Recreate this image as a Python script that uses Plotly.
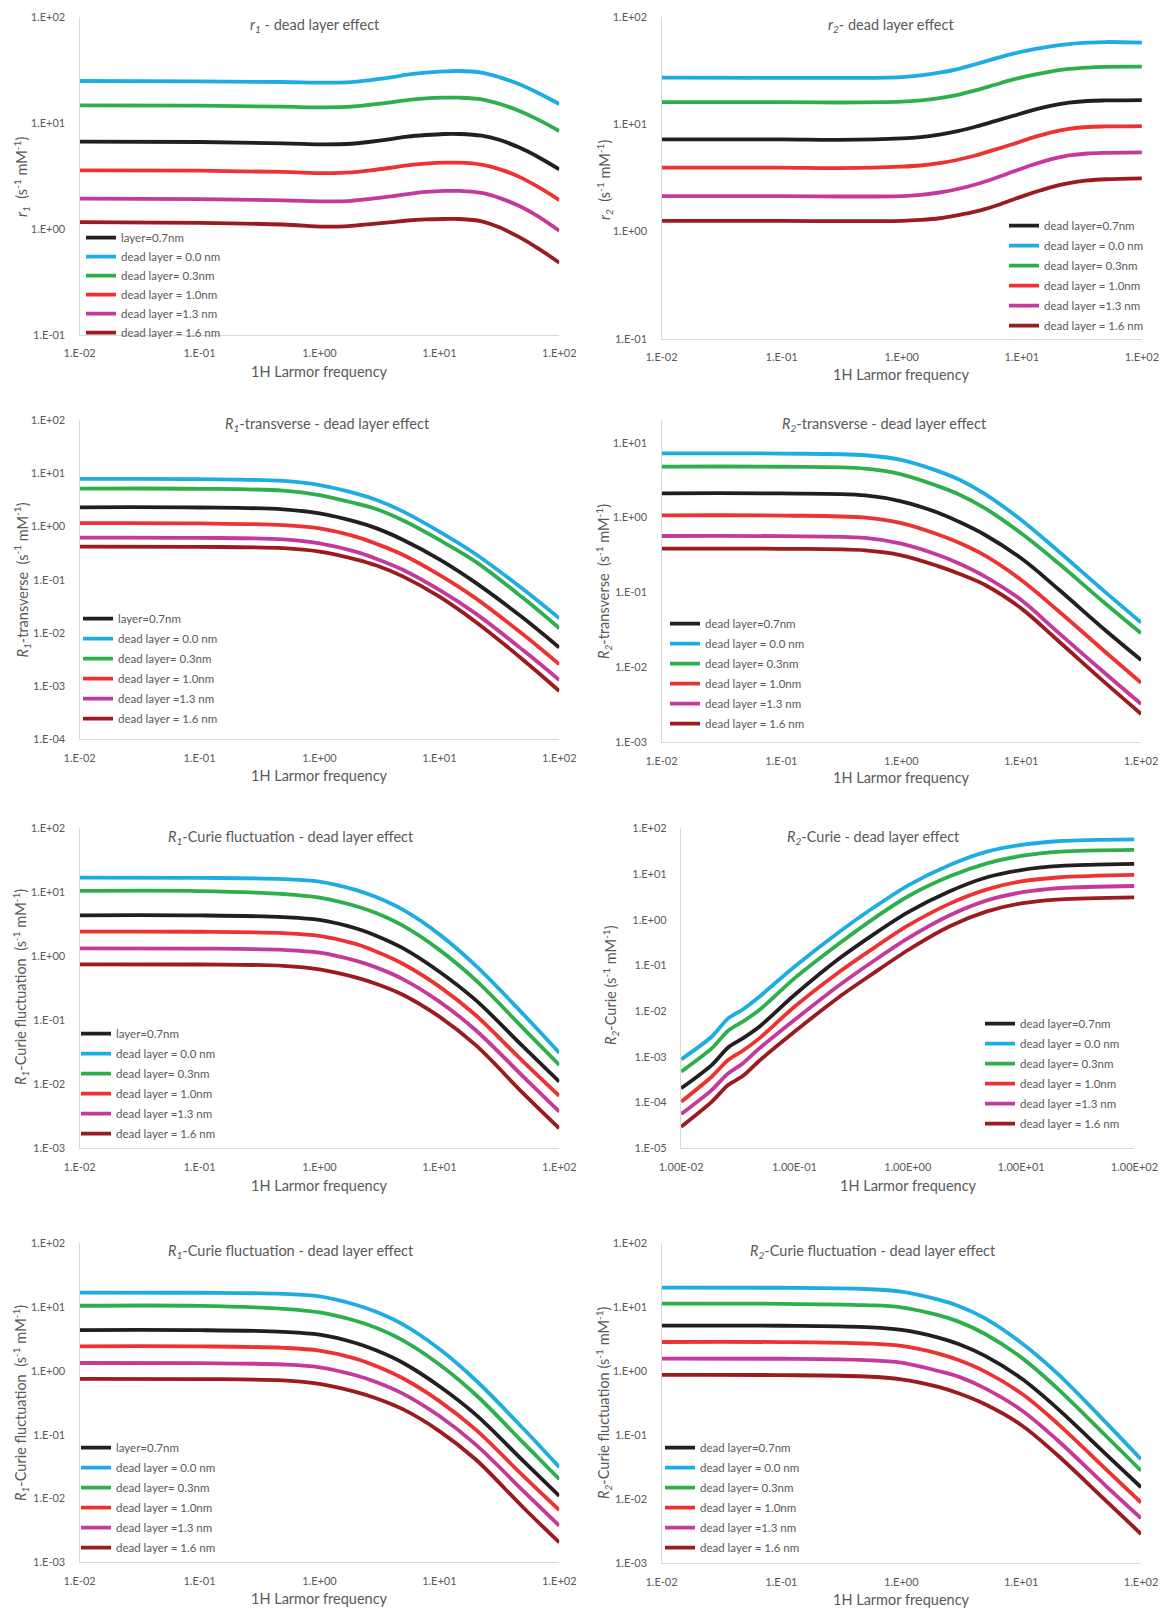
import plotly.graph_objects as go

W, H = 1161, 1608
FONT = "Lato, Open Sans, sans-serif"
GREY = "#595959"

# ---------------- data ----------------
SERIES_LEFT = ["layer=0.7nm", "dead layer = 0.0 nm", "dead layer= 0.3nm",
               "dead layer = 1.0nm", "dead layer =1.3 nm", "dead layer = 1.6 nm"]
SERIES_RIGHT = ["dead layer=0.7nm", "dead layer = 0.0 nm", "dead layer= 0.3nm",
                "dead layer = 1.0nm", "dead layer =1.3 nm", "dead layer = 1.6 nm"]
COLORS = ["#231F20", "#1DADE3", "#2DB04B", "#EE3231", "#C4399B", "#9B1B1F"]

# r1
freq_r1 = [0.01, 0.1, 0.5, 1.1, 1.85, 2.66, 3.8, 5.4, 7.7, 11, 14.7, 22.5, 32, 46, 66, 100]
r1_07 = [6.64, 6.59, 6.40, 6.26, 6.35, 6.63, 6.98, 7.40, 7.67, 7.84, 7.84, 7.56, 6.88, 5.87, 4.79, 3.64]
r1_00 = [24.76, 24.58, 24.23, 23.88, 24.2, 25.3, 26.61, 28.40, 29.66, 30.54, 30.76, 29.66, 26.80, 23.20, 19.22, 15.03]
r1_03 = [14.60, 14.50, 14.18, 13.98, 14.18, 14.8, 15.47, 16.39, 16.99, 17.24, 17.24, 16.63, 15.03, 13.00, 10.78, 8.36]
r1_10 = [3.56, 3.54, 3.44, 3.36, 3.41, 3.56, 3.75, 3.97, 4.12, 4.21, 4.21, 4.03, 3.64, 3.11, 2.50, 1.87]
r1_13 = [1.93, 1.91, 1.86, 1.82, 1.84, 1.92, 2.01, 2.13, 2.23, 2.28, 2.28, 2.18, 1.95, 1.65, 1.32, 0.96]
r1_16 = [1.16, 1.14, 1.10, 1.05, 1.07, 1.11, 1.15, 1.20, 1.23, 1.24, 1.24, 1.18, 1.03, 0.84, 0.66, 0.48]

# r2
freq_r2 = [0.01, 0.1, 0.3, 1, 1.44, 2.06, 2.93, 4.18, 5.97, 8.5, 12.1, 17.3, 24.7, 35.2, 50.2, 100]
r2_07 = [7.21, 7.21, 7.15, 7.37, 7.58, 8.00, 8.61, 9.51, 10.66, 11.96, 13.42, 14.82, 15.82, 16.42, 16.62, 16.76]
r2_00 = [27.05, 27.0, 26.9, 27.44, 28.44, 30.11, 32.58, 36.26, 40.66, 45.24, 49.29, 52.97, 55.67, 57.28, 58.11, 57.3]
r2_03 = [16.0, 16.0, 15.9, 16.17, 16.61, 17.43, 18.73, 20.72, 23.27, 26.05, 28.60, 30.83, 32.62, 33.61, 34.12, 34.25]
r2_10 = [3.93, 3.93, 3.9, 4.02, 4.12, 4.33, 4.66, 5.13, 5.79, 6.54, 7.46, 8.35, 9.03, 9.40, 9.52, 9.60]
r2_13 = [2.14, 2.14, 2.12, 2.14, 2.20, 2.31, 2.49, 2.76, 3.14, 3.62, 4.16, 4.70, 5.11, 5.33, 5.41, 5.46]
r2_16 = [1.26, 1.26, 1.25, 1.26, 1.285, 1.33, 1.42, 1.54, 1.73, 1.99, 2.28, 2.58, 2.83, 2.99, 3.07, 3.13]

# R1-transverse
freq_R1t = [0.01, 0.1, 0.5, 1, 2, 3, 5, 10, 20, 50, 100]
R1t_07 = [2.29, 2.27, 2.1, 1.76, 1.23, 0.92, 0.557, 0.241, 0.088, 0.019, 0.00529]
R1t_00 = [7.8, 7.75, 7.15, 6.0, 4.19, 3.14, 1.90, 0.80, 0.304, 0.0659, 0.0188]
R1t_03 = [5.13, 5.1, 4.7, 3.89, 2.71, 2.10, 1.29, 0.557, 0.218, 0.045, 0.0122]
R1t_10 = [1.15, 1.14, 1.06, 0.92, 0.644, 0.469, 0.291, 0.123, 0.045, 0.0093, 0.00257]
R1t_13 = [0.616, 0.61, 0.57, 0.482, 0.336, 0.245, 0.152, 0.0641, 0.0232, 0.0047, 0.0013]
R1t_16 = [0.417, 0.413, 0.39, 0.336, 0.241, 0.184, 0.114, 0.048, 0.0162, 0.0031, 0.00081]

# R2-transverse
freq_R2t = [0.01, 0.1, 0.5, 1, 2, 3, 5, 10, 20, 50, 100]
R2t_07 = [2.11, 2.1, 1.98, 1.65, 1.17, 0.885, 0.586, 0.286, 0.114, 0.0316, 0.01256]
R2t_00 = [7.2, 7.15, 6.8, 5.9, 4.21, 3.25, 2.06, 0.93, 0.367, 0.102, 0.0398]
R2t_03 = [4.79, 4.77, 4.5, 3.78, 2.65, 2.05, 1.33, 0.617, 0.253, 0.0717, 0.0285]
R2t_10 = [1.07, 1.065, 1.0, 0.845, 0.60, 0.464, 0.31, 0.147, 0.0584, 0.0162, 0.00625]
R2t_13 = [0.568, 0.565, 0.535, 0.448, 0.319, 0.246, 0.163, 0.0794, 0.030, 0.00834, 0.00325]
R2t_16 = [0.385, 0.383, 0.365, 0.314, 0.227, 0.179, 0.126, 0.0614, 0.0232, 0.00625, 0.00239]

# R1-Curie fluctuation
freq_R1c = [0.01, 0.1, 0.5, 1, 2, 3, 5, 10, 20, 50, 100]
R1c_07 = [4.37, 4.35, 4.1, 3.7, 2.74, 2.08, 1.33, 0.575, 0.208, 0.0388, 0.011]
R1c_00 = [16.9, 16.8, 16.1, 14.7, 10.9, 8.35, 5.3, 2.2, 0.72, 0.125, 0.031]
R1c_03 = [10.5, 10.45, 9.4, 8.26, 6.11, 4.7, 2.98, 1.26, 0.427, 0.075, 0.02]
R1c_10 = [2.43, 2.42, 2.3, 2.08, 1.56, 1.18, 0.759, 0.336, 0.121, 0.0226, 0.00657]
R1c_13 = [1.33, 1.32, 1.26, 1.14, 0.855, 0.665, 0.437, 0.196, 0.0706, 0.0132, 0.00374]
R1c_16 = [0.75, 0.745, 0.71, 0.627, 0.47, 0.37, 0.249, 0.114, 0.0412, 0.00723, 0.00205]

# R2-Curie
freq_R2c = [0.01, 0.0186, 0.026, 0.035, 0.049, 0.1, 0.25, 0.5, 1, 2.35, 5, 10, 22.4, 100]
R2c_07 = [2.05e-4, 6.62e-4, 1.61e-3, 2.54e-3, 4.57e-3, 0.0225, 0.143, 0.48, 1.45, 4.2, 8.5, 12.2, 15.0, 16.6]
R2c_00 = [8.8e-4, 2.76e-3, 6.95e-3, 0.0109, 0.0207, 0.094, 0.548, 1.85, 5.6, 15.8, 30.9, 43.2, 52.8, 57.4]
R2c_03 = [4.73e-4, 1.53e-3, 3.74e-3, 5.89e-3, 0.0106, 0.0522, 0.305, 1.06, 3.22, 8.9, 17.1, 24.8, 30.9, 33.6]
R2c_10 = [1.04e-4, 3.68e-4, 8.5e-4, 1.36e-3, 2.54e-3, 0.0125, 0.0731, 0.24, 0.74, 2.25, 4.6, 6.9, 8.5, 9.53]
R2c_13 = [5.6e-5, 1.88e-4, 4.35e-4, 7.2e-4, 1.53e-3, 6.4e-3, 0.0373, 0.125, 0.39, 1.25, 2.65, 3.95, 4.95, 5.47]
R2c_16 = [2.96e-5, 1.04e-4, 2.42e-4, 3.8e-4, 8.24e-4, 3.55e-3, 0.0207, 0.068, 0.215, 0.72, 1.52, 2.28, 2.8, 3.09]

# R2-Curie fluctuation
freq_R2cf = [0.01, 0.1, 0.5, 1, 2, 3, 5, 10, 20, 50, 100]
R2cf_07 = [5.17, 5.15, 4.9, 4.43, 3.4, 2.67, 1.74, 0.778, 0.264, 0.0524, 0.0154]
R2cf_00 = [20.3, 20.2, 19.3, 17.6, 13.3, 10.5, 6.73, 2.8, 0.93, 0.164, 0.0422]
R2cf_03 = [11.4, 11.35, 10.8, 10.0, 7.59, 5.97, 3.83, 1.65, 0.542, 0.101, 0.028]
R2cf_10 = [2.87, 2.86, 2.72, 2.49, 1.91, 1.5, 0.99, 0.453, 0.154, 0.0305, 0.00887]
R2cf_13 = [1.58, 1.57, 1.5, 1.37, 1.02, 0.826, 0.542, 0.249, 0.0845, 0.0167, 0.00505]
R2cf_16 = [0.877, 0.872, 0.83, 0.75, 0.575, 0.453, 0.305, 0.145, 0.0493, 0.0098, 0.00287]

X_TICKS = [0.01, 0.1, 1, 10, 100]
X_LABELS = ["1.E-02", "1.E-01", "1.E+00", "1.E+01", "1.E+02"]
X_LABELS_LONG = ["1.00E-02", "1.00E-01", "1.00E+00", "1.00E+01", "1.00E+02"]
Y_TICKS = [1e-5, 1e-4, 1e-3, 1e-2, 1e-1, 1, 10, 100]
Y_LABELS = ["1.E-05", "1.E-04", "1.E-03", "1.E-02", "1.E-01", "1.E+00", "1.E+01", "1.E+02"]

UNIT = "(s<sup>-1</sup> mM<sup>-1</sup>)"

panels = [
    dict(x=freq_r1, ys=[r1_07, r1_00, r1_03, r1_10, r1_13, r1_16], names=SERIES_LEFT,
         xd=(79.6, 559.3), yd=(16.7, 335), yr=(-1, 2), xl=X_LABELS,
         title="<i>r<sub>1</sub></i> - dead layer effect", tpos=(315, 25),
         ytitle="<i>r<sub>1</sub></i>  " + UNIT, ytpos=(22, 177), xtpos=(319, 371),
         leg=(94, 238)),
    dict(x=freq_r2, ys=[r2_07, r2_00, r2_03, r2_10, r2_13, r2_16], names=SERIES_RIGHT,
         xd=(661.5, 1141.9), yd=(16.7, 339), yr=(-1, 2), xl=X_LABELS,
         title="<i>r<sub>2</sub></i>- dead layer effect", tpos=(891, 26),
         ytitle="<i>r<sub>2</sub></i>  " + UNIT, ytpos=(605, 180), xtpos=(901, 374),
         leg=(1017, 226)),
    dict(x=freq_R1t, ys=[R1t_07, R1t_00, R1t_03, R1t_10, R1t_13, R1t_16], names=SERIES_LEFT,
         xd=(79.6, 559.3), yd=(420, 739.3), yr=(-4, 2), xl=X_LABELS,
         title="<i>R<sub>1</sub></i>-transverse - dead layer effect", tpos=(327, 424),
         ytitle="<i>R<sub>1</sub></i>-transverse  " + UNIT, ytpos=(21.5, 580), xtpos=(319, 775),
         leg=(91, 619)),
    dict(x=freq_R2t, ys=[R2t_07, R2t_00, R2t_03, R2t_10, R2t_13, R2t_16], names=SERIES_RIGHT,
         xd=(661.5, 1141.1), yd=(420, 742.3), yr=(-3, 1.303), xl=X_LABELS,
         title="<i>R<sub>2</sub></i>-transverse - dead layer effect", tpos=(884, 424),
         ytitle="<i>R<sub>2</sub></i>-transverse  " + UNIT, ytpos=(603, 582), xtpos=(901, 778),
         leg=(678, 624)),
    dict(x=freq_R1c, ys=[R1c_07, R1c_00, R1c_03, R1c_10, R1c_13, R1c_16], names=SERIES_LEFT,
         xd=(79.6, 559.3), yd=(828.3, 1148.3), yr=(-3, 2), xl=X_LABELS,
         title="<i>R<sub>1</sub></i>-Curie fluctuation - dead layer effect", tpos=(291, 837),
         ytitle="<i>R<sub>1</sub></i>-Curie fluctuation  " + UNIT, ytpos=(20, 987), xtpos=(319, 1185),
         leg=(89, 1034)),
    dict(x=freq_R2c, ys=[R2c_07, R2c_00, R2c_03, R2c_10, R2c_13, R2c_16], names=SERIES_RIGHT,
         xd=(681.1, 1134.4), yd=(828.3, 1148.3), yr=(-5, 2), xl=X_LABELS_LONG,
         title="<i>R<sub>2</sub></i>-Curie - dead layer effect", tpos=(873, 837),
         ytitle="<i>R<sub>2</sub></i>-Curie " + UNIT, ytpos=(610, 985), xtpos=(908, 1185),
         leg=(993, 1024)),
    dict(x=freq_R1c, ys=[R1c_07, R1c_00, R1c_03, R1c_10, R1c_13, R1c_16], names=SERIES_LEFT,
         xd=(79.6, 559.3), yd=(1243.3, 1562.3), yr=(-3, 2), xl=X_LABELS,
         title="<i>R<sub>1</sub></i>-Curie fluctuation - dead layer effect", tpos=(291, 1251),
         ytitle="<i>R<sub>1</sub></i>-Curie fluctuation  " + UNIT, ytpos=(20, 1403), xtpos=(319, 1598),
         leg=(89, 1448)),
    dict(x=freq_R2cf, ys=[R2cf_07, R2cf_00, R2cf_03, R2cf_10, R2cf_13, R2cf_16], names=SERIES_RIGHT,
         xd=(661.5, 1141.1), yd=(1243.3, 1563.3), yr=(-3, 2), xl=X_LABELS,
         title="<i>R<sub>2</sub></i>-Curie fluctuation - dead layer effect", tpos=(873, 1251),
         ytitle="<i>R<sub>2</sub></i>-Curie fluctuation " + UNIT, ytpos=(603, 1403), xtpos=(901, 1599),
         leg=(673, 1448)),
]

fig = go.Figure()
layout = dict(width=W, height=H, margin=dict(l=0, r=0, t=0, b=0, autoexpand=False),
              paper_bgcolor="white", plot_bgcolor="white", showlegend=True,
              font=dict(family=FONT, color=GREY))
annotations = []

for i, p in enumerate(panels):
    n = i + 1
    sfx = "" if n == 1 else str(n)
    xa, ya, lg = "x" + sfx, "y" + sfx, "legend" + sfx
    smooth = 0.8 if n == 6 else 1.0
    for k, (name, vals) in enumerate(zip(p["names"], p["ys"])):
        fig.add_trace(go.Scatter(
            x=p["x"], y=vals, mode="lines", name=name,
            line=dict(color=COLORS[k], width=3.8, shape="spline", smoothing=smooth),
            xaxis=xa, yaxis=ya, legend=lg, legendgroup=f"p{n}s{k}", hoverinfo="skip"))
    lo, hi = p["yr"]
    yt = [v for v in Y_TICKS if 10 ** (lo - 1e-6) <= v <= 10 ** (hi + 1e-6)]
    ytl = [Y_LABELS[Y_TICKS.index(v)] for v in yt]
    layout["xaxis" + sfx] = dict(
        type="log", range=[-2, 2], domain=[p["xd"][0] / W, p["xd"][1] / W], anchor=ya,
        showline=True, linecolor="#D9D9D9", linewidth=1.3, showgrid=False, zeroline=False,
        ticks="", tickvals=X_TICKS, ticktext=p["xl"], ticklabelstandoff=8, automargin=False,
        tickfont=dict(size=11, color=GREY, family=FONT))
    layout["yaxis" + sfx] = dict(
        type="log", range=[lo, hi], domain=[1 - p["yd"][1] / H, 1 - p["yd"][0] / H], anchor=xa,
        showline=True, linecolor="#D9D9D9", linewidth=1.3, showgrid=False, zeroline=False,
        ticks="", tickvals=yt, ticktext=ytl, ticklabelstandoff=11, automargin=False,
        tickfont=dict(size=11, color=GREY, family=FONT))
    layout[lg] = dict(
        x=(p["leg"][0] - 13) / W, y=1 - (p["leg"][1] - 14.8) / H,
        xanchor="left", yanchor="top", bgcolor="rgba(0,0,0,0)",
        font=dict(size=11.5, color=GREY, family=FONT),
        traceorder="grouped", tracegroupgap=0 if n == 1 else 1, itemwidth=30)
    annotations.append(dict(text=p["title"], x=p["tpos"][0] / W, y=1 - p["tpos"][1] / H,
                            xref="paper", yref="paper", xanchor="center", yanchor="middle",
                            showarrow=False, font=dict(size=14.5, color=GREY, family=FONT)))
    annotations.append(dict(text="1H Larmor frequency", x=p["xtpos"][0] / W, y=1 - p["xtpos"][1] / H,
                            xref="paper", yref="paper", xanchor="center", yanchor="middle",
                            showarrow=False, font=dict(size=14.5, color=GREY, family=FONT)))
    annotations.append(dict(text=p["ytitle"], x=p["ytpos"][0] / W, y=1 - p["ytpos"][1] / H,
                            xref="paper", yref="paper", xanchor="center", yanchor="middle",
                            showarrow=False, textangle=-90,
                            font=dict(size=14.5, color=GREY, family=FONT)))

layout["annotations"] = annotations
fig.update_layout(**layout)
fig.write_html("out.html", config={"displayModeBar": False},
               post_script="document.body.style.margin='0';document.body.style.overflow='hidden';")
